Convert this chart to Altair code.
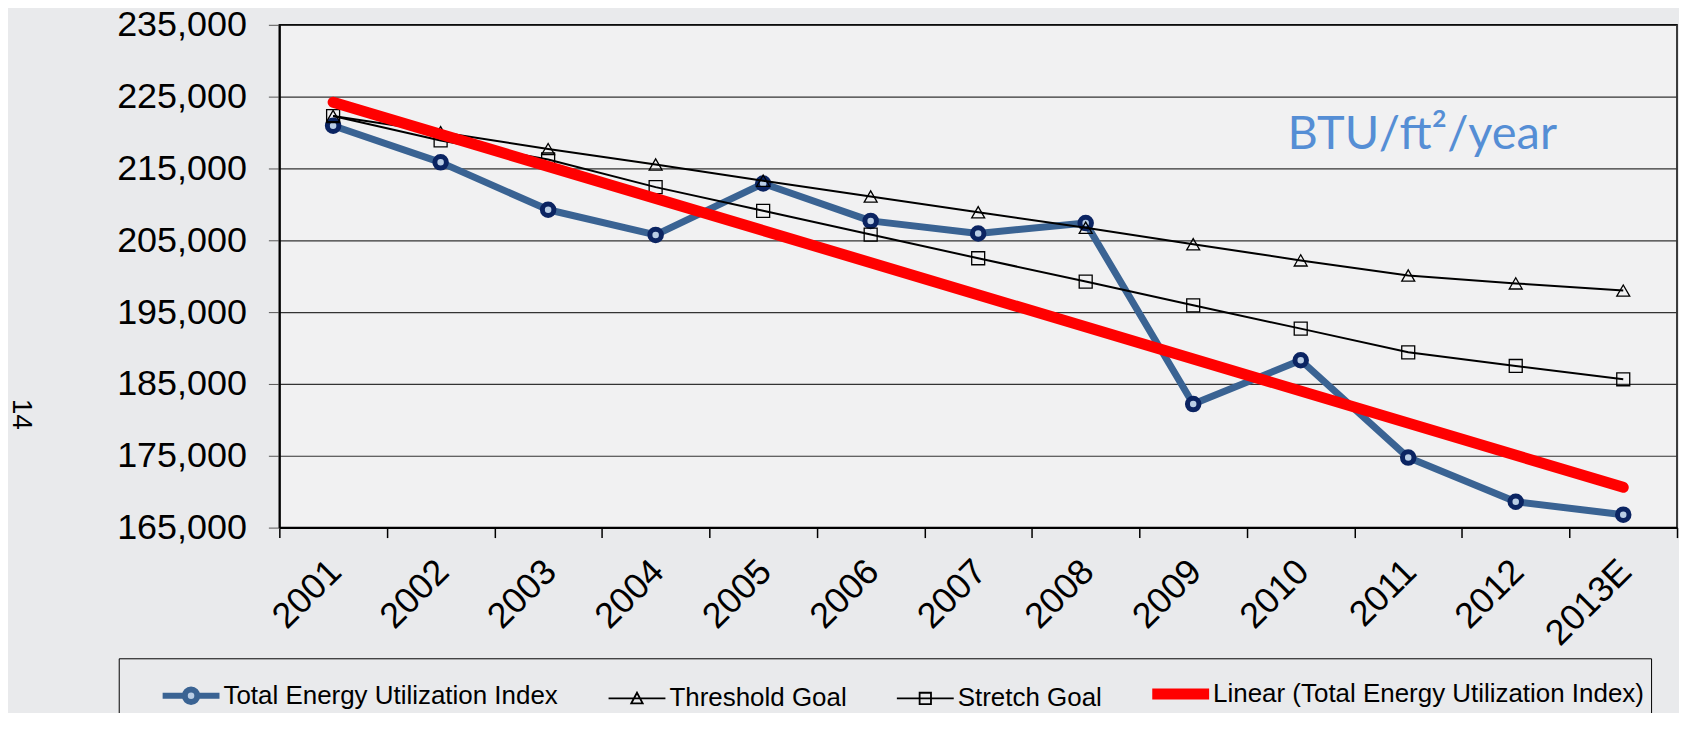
import json
import altair as alt
import pandas as pd

# ---------------- data ----------------
years = ["2001", "2002", "2003", "2004", "2005", "2006", "2007",
         "2008", "2009", "2010", "2011", "2012", "2013E"]
teui = [220950, 215850, 209250, 205750, 212900, 207700, 205950,
        207400, 182200, 188300, 174750, 168600, 166800]
threshold = [222300, 220050, 217700, 215550, 213300, 211100, 208900,
             206750, 204450, 202200, 200100, 199000, 198000]
stretch = [222300, 218900, 216250, 212400, 209100, 205800, 202500,
           199250, 195950, 192700, 189400, 187500, 185650]
series_names = ["Total Energy Utilization Index", "Threshold Goal",
                "Stretch Goal", "Linear (Total Energy Utilization Index)"]
y_ticks = [165000, 175000, 185000, 195000, 205000, 215000, 225000, 235000]
unit_label = "BTU/ft²/year"
unit_year = "2011"
unit_value = 217750
page_label = "14"

df = pd.DataFrame({"idx": list(range(len(years))), "year": years,
                   "teui": teui, "threshold": threshold, "stretch": stretch})

# ---------------- styles ----------------
FONT = "Liberation Sans"
BLUE = "#3a6393"
NAVY = "#0b2462"
LIGHT = "#b9cde5"
RED = "#ff0000"

x_scale = alt.Scale(domain=years, paddingInner=0, paddingOuter=0)
y_scale = alt.Scale(domain=[y_ticks[0], y_ticks[-1]], nice=False, zero=False)

x_axis = alt.Axis(title=None, tickBand="extent", labelAngle=-45, labelAlign="right",
                  labelBaseline="middle", labelFont=FONT, labelFontSize=36,
                  labelColor="#000", labelPadding=28, labelOffset=2,
                  labelOverlap=False, tickSize=10, tickColor="#000", tickWidth=1.5,
                  domainColor="#000", domainWidth=2, grid=False)
y_axis = alt.Axis(values=y_ticks, format=",d", title=page_label, titleAngle=90,
                  titleX=-259, titleY=390, titleAlign="center", titleBaseline="middle",
                  titleFont=FONT, titleFontSize=28, titleFontWeight="normal",
                  titleColor="#000", labelFont=FONT, labelFontSize=36, labelColor="#000",
                  labelPadding=22, labelOverlap=False, tickSize=11, tickColor="#555",
                  tickWidth=1, domainColor="#000", domainWidth=2, grid=True,
                  gridColor="#333", gridWidth=1.2)

base = alt.Chart(df)

def xenc():
    return alt.X("year:N", scale=x_scale, axis=x_axis)

def yenc(field):
    return alt.Y(f"{field}:Q", scale=y_scale, axis=y_axis)

teui_line = base.mark_line(color=BLUE, strokeWidth=7, strokeJoin="round").encode(
    x=xenc(), y=yenc("teui"))
teui_pts = base.mark_point(shape="circle", size=133, filled=True, fill=LIGHT,
                           stroke=NAVY, strokeWidth=5, opacity=1).encode(
    x=xenc(), y=yenc("teui"))

thr_line = base.mark_line(color="#000", strokeWidth=2).encode(x=xenc(), y=yenc("threshold"))
thr_pts = base.mark_point(shape="triangle-up", size=169, filled=False, stroke="#000",
                          strokeWidth=1.3, opacity=1).encode(x=xenc(), y=yenc("threshold"))

str_line = base.mark_line(color="#000", strokeWidth=2).encode(x=xenc(), y=yenc("stretch"))
str_pts = base.mark_point(shape="square", size=169, filled=False, stroke="#000",
                          strokeWidth=1.3, opacity=1).encode(x=xenc(), y=yenc("stretch"))

# legend symbols (custom per entry)
paths = [
    "M-1,0H-0.22M0.22,0H1M-0.22,0A0.22,0.22 0 1,0 0.22,0A0.22,0.22 0 1,0 -0.22,0Z",
    "M-1,0H1M-0.2,0.17L0,-0.2L0.2,0.17Z",
    "M-1,0H1M-0.2,-0.2H0.2V0.2H-0.2Z",
    "M-1,0H1",
]
sym_fill = [LIGHT, "transparent", "transparent", "transparent"]
sym_width = [6, 1.8, 1.8, 11]
ix = f"indexof({json.dumps(series_names)}, datum.value)"

def pick(arr, fallback):
    return {"expr": f"({json.dumps(arr)}[{ix}] || {json.dumps(fallback)})"}

legend = alt.Legend(
    title=None, orient="none", legendX=-161, legendY=635, direction="horizontal",
    symbolSize=3249, symbolOffset=37, labelOffset=3, labelFont=FONT,
    labelFontSize=26, labelColor="#000", labelLimit=1000, columnPadding=12,
    padding=6, strokeColor="#000",
    symbolType=pick(paths, "stroke"), symbolFillColor=pick(sym_fill, "transparent"),
    symbolStrokeWidth=pick(sym_width, 2), symbolOpacity=1,
)

lookup_rows = df[["idx", "year"]].to_dict("records")
trend = (
    base.transform_regression("idx", "teui", method="linear")
    .transform_lookup(lookup="idx",
                      from_=alt.LookupData(data=alt.InlineData(values=lookup_rows),
                                           key="idx", fields=["year"]))
    .transform_calculate(series=json.dumps(series_names[3]))
    .mark_line(strokeCap="round", strokeWidth=11)
    .encode(x=xenc(), y=yenc("teui"),
            color=alt.Color("series:N",
                            scale=alt.Scale(domain=series_names,
                                            range=[BLUE, "#000", "#000", RED]),
                            legend=legend))
)

unit_df = pd.DataFrame({"year": [unit_year], "v": [unit_value], "label": [unit_label]})
unit_text = alt.Chart(unit_df).mark_text(
    font="Lato", fontSize=47, color="#558ed5", align="center", baseline="alphabetic",
    dx=14).encode(x=xenc(), y=yenc("v"), text="label:N")

chart = (
    alt.layer(teui_line, teui_pts, thr_line, thr_pts, str_line, str_pts, trend, unit_text)
    .properties(width=1401, height=504,
                autosize=alt.AutoSizeParams(type="none"),
                padding={"left": 272, "top": 16, "right": 2, "bottom": 185},
                background="#e9eaec")
    .configure_view(fill="#f1f1f2", stroke="#000", strokeWidth=1.5)
)

chart.save("out.html", embed_options={"renderer": "svg", "actions": False})
